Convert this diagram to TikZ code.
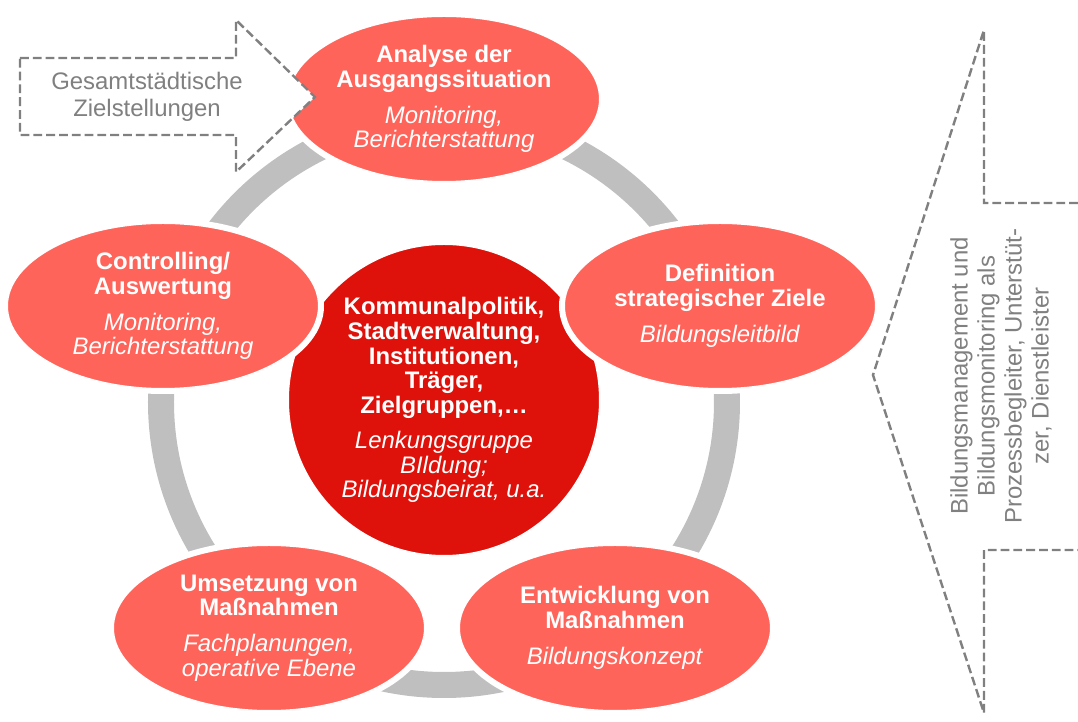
\documentclass[tikz,border=0pt]{standalone}
\usepackage{fontspec}
\setmainfont{Liberation Sans}
\usetikzlibrary{shapes.geometric}

\definecolor{phasered}{RGB}{255,100,90}
\definecolor{hubred}{RGB}{222,18,10}
\definecolor{ringgray}{RGB}{191,191,191}
\definecolor{linegray}{RGB}{128,128,128}

\begin{document}
\begin{tikzpicture}[
		phase/.style={ellipse, fill=phasered, draw=white, line width=0.15cm, minimum width=7.9cm, minimum height=4.25cm, inner sep=0pt, align=center, text=white, font=\fontsize{17}{17.5}\selectfont},
		hub/.style={circle, fill=hubred, draw=white, line width=0.1cm, minimum size=7.85cm, inner sep=0pt, align=center, text=white, font=\fontsize{17}{17.6}\selectfont},
		dashline/.style={draw=linegray, line width=0.06cm, dash pattern=on 0.22cm off 0.1cm},
		graytext/.style={text=linegray, align=center, font=\fontsize{17}{19}\selectfont}
	]
			\useasboundingbox (-11.1,-8.05) rectangle (15.85,10);

			\def\R{7.075}
			\def\Gap{0.28cm}

			% gray cycle behind everything
			\draw[ringgray, line width=0.65cm] (0,-0.05) circle (\R);

			\node (hub) [hub] at (0,0) {\textbf{Kommunalpolitik,}\\\textbf{Stadtverwaltung,}\\\textbf{Institutionen,}\\\textbf{Träger,}\\\textbf{Zielgruppen,…}\\[0.25cm]\textit{Lenkungsgruppe}\\\textit{BIldung;}\\\textit{Bildungsbeirat, u.a.}};

			\node (analyse) [phase] at (0,7.525) {\textbf{Analyse der}\\\textbf{Ausgangssituation}\\[\Gap]\textit{Monitoring,}\\\textit{Berichterstattung}};
			\node (ziele) [phase] at (6.9,2.35) {\textbf{Definition}\\\textbf{strategischer Ziele}\\[\Gap]\textit{Bildungsleitbild}};
			\node (entwicklung) [phase] at (4.275,-5.7) {\textbf{Entwicklung von}\\\textbf{Maßnahmen}\\[\Gap]\textit{Bildungskonzept}};
			\node (umsetzung) [phase] at (-4.375,-5.7) {\textbf{Umsetzung von}\\\textbf{Maßnahmen}\\[\Gap]\textit{Fachplanungen,}\\\textit{operative Ebene}};
			\node (controlling) [phase] at (-7.025,2.35) {\textbf{Controlling/}\\\textbf{Auswertung}\\[\Gap]\textit{Monitoring,}\\\textit{Berichterstattung}};

			% input arrow on the left
			\draw[dashline, fill=white] (-10.6,8.55) -- (-5.2,8.55) -- (-5.2,9.5) -- (-3.225,7.575) -- (-5.2,5.7) -- (-5.2,6.625) -- (-10.6,6.625) -- cycle;
			\node (ziel) [graytext] at (-7.425,7.575) {Gesamtstädtische\\Zielstellungen};

			% support chevron on the right
			\draw[dashline] (15.85,4.925) -- (13.5,4.925) -- (13.5,9.25) -- (10.725,0.625) -- (13.5,-7.825) -- (13.5,-3.75) -- (15.85,-3.75);
			\node (support) [graytext, rotate=90, font=\fontsize{17}{19.2}\selectfont] at (13.925,0.6) {Bildungsmanagement und\\Bildungsmonitoring als\\Prozessbegleiter, Unterstüt-\\zer, Dienstleister};
		\end{tikzpicture}
\end{document}
